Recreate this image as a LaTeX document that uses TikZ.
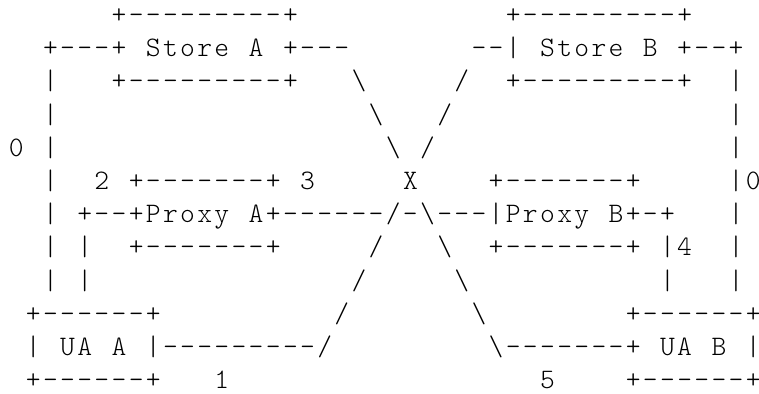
\documentclass[tikz,border=0pt]{standalone}
\usepackage{fontspec}
\newfontfamily\ascfont{lmmonolt10-regular}[Extension=.otf]
\newlength\cellw
\setlength\cellw{8.57pt}
\def\ascchar#1{\ifx.#1\else\ifx!#1\textbackslash\else#1\fi\fi}
\def\ascloop#1{\ifx\relax#1\else\makebox[\cellw][c]{\ascchar{#1}}\expandafter\ascloop\fi}
\newcommand\ascrow[1]{\ascloop#1\relax}
\begin{document}
\begin{tikzpicture}[x=0.5pt,y=-0.5pt,
  asciirow/.style={anchor=base west,inner sep=0pt,outer sep=0pt,
    font=\ascfont\fontsize{14.1}{16}\selectfont}]
\fill[white] (0,0) rectangle (759,393);
\useasboundingbox (0,0) rectangle (759,393);
\node[asciirow] (r0) at (7.63,23.5) {\ascrow{......+---------+............+---------+}};
\node[asciirow] (r1) at (7.63,56.7) {\ascrow{..+---+.Store.A.+---.......--|.Store.B.+--+}};
\node[asciirow] (r2) at (7.63,89.9) {\ascrow{..|...+---------+...!...../..+---------+..|}};
\node[asciirow] (r3) at (7.63,123.1) {\ascrow{..|..................!.../................|}};
\node[asciirow] (r4) at (7.63,156.3) {\ascrow{0.|...................!./.................|}};
\node[asciirow] (r5) at (7.63,189.5) {\ascrow{..|..2.+-------+.3.....X....+-------+.....|0}};
\node[asciirow] (r6) at (7.63,222.7) {\ascrow{..|.+--+Proxy.A+------/-!---|Proxy.B+-+...|}};
\node[asciirow] (r7) at (7.63,255.9) {\ascrow{..|.|..+-------+...../...!..+-------+.|4..|}};
\node[asciirow] (r8) at (7.63,289.1) {\ascrow{..|.|.............../.....!...........|...|}};
\node[asciirow] (r9) at (7.63,322.3) {\ascrow{.+------+........../.......!........+------+}};
\node[asciirow] (r10) at (7.63,355.5) {\ascrow{.|.UA.A.|---------/.........!-------+.UA.B.|}};
\node[asciirow] (r11) at (7.63,388.7) {\ascrow{.+------+...1..................5....+------+}};
\end{tikzpicture}
\end{document}
